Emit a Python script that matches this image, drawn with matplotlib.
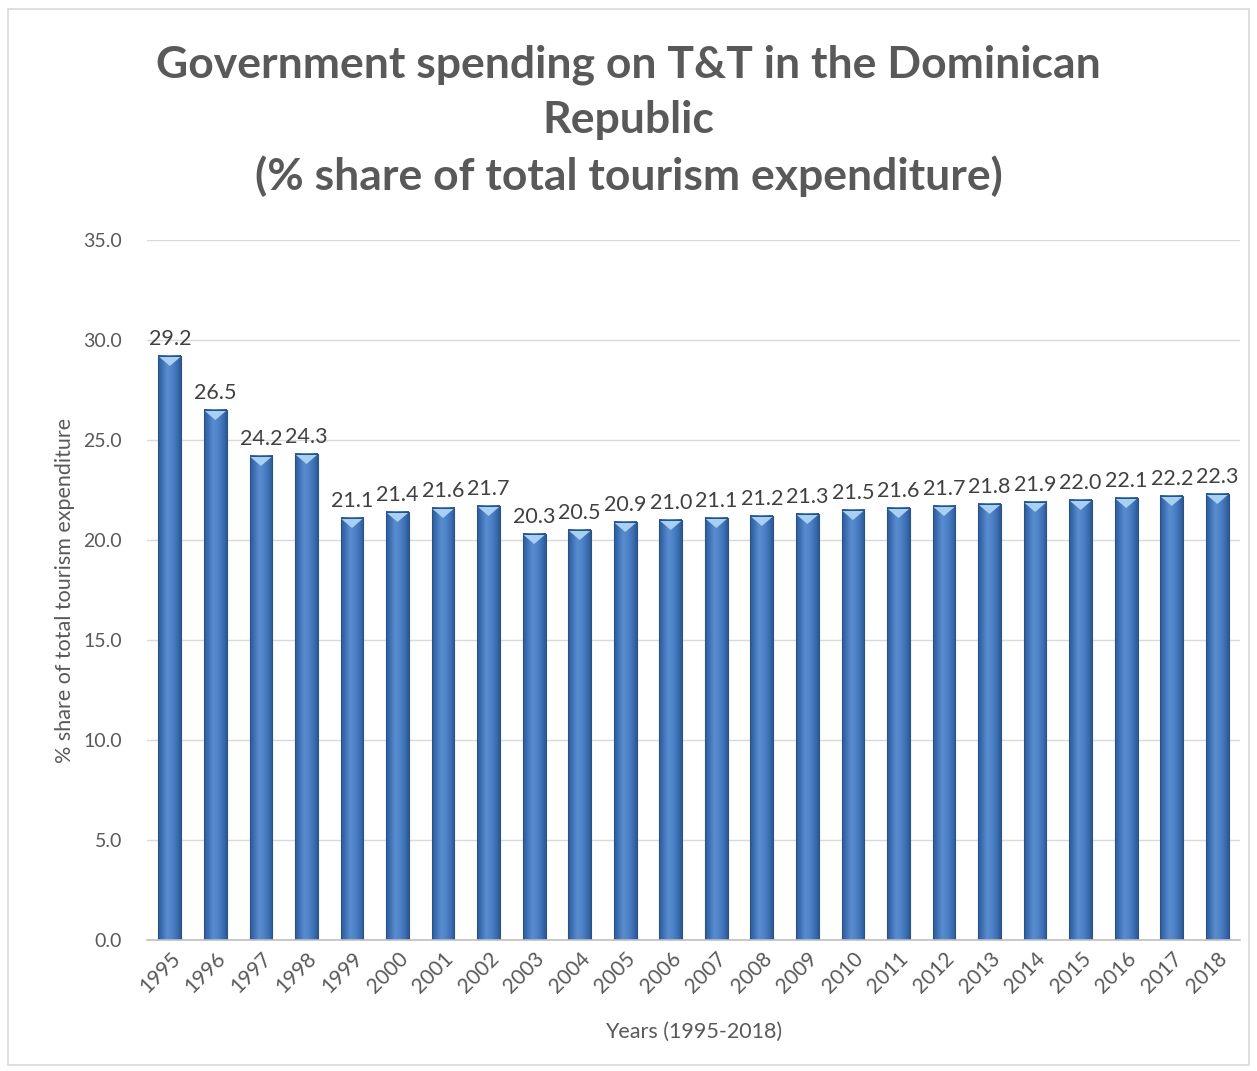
import numpy as np
import matplotlib.pyplot as plt
from matplotlib.patches import Polygon, Rectangle
from matplotlib.colors import LinearSegmentedColormap

years = [str(y) for y in range(1995, 2019)]
share = [29.2, 26.5, 24.2, 24.3, 21.1, 21.4, 21.6, 21.7, 20.3, 20.5, 20.9, 21.0,
         21.1, 21.2, 21.3, 21.5, 21.6, 21.7, 21.8, 21.9, 22.0, 22.1, 22.2, 22.3]
yticks = [0, 5, 10, 15, 20, 25, 30, 35]

plt.rcParams['font.family'] = ['Lato', 'DejaVu Sans']
text_gray = '#595959'

fig = plt.figure(figsize=(12.57, 10.71), dpi=100)
fig.patches.append(Rectangle((0.006, 0.006), 0.988, 0.986, transform=fig.transFigure,
                             fill=False, edgecolor='#d9d9d9', lw=1.2))
ax = fig.add_axes([0.117, 0.1223, 0.8695, 0.6536])

# horizontal shading across each bar: darker edges, lighter middle
bar_cmap = LinearSegmentedColormap.from_list(
    'bevel', ['#2c5a94', '#3f72b8', '#5a8dd0', '#4f84c8', '#3f72b8', '#2c5a94'])
grad = np.linspace(0, 1, 64).reshape(1, -1)
w = 0.5
for i, v in enumerate(share):
    x0, x1 = i - w / 2, i + w / 2
    ax.imshow(grad, extent=[x0, x1, 0, v], aspect='auto', cmap=bar_cmap,
              interpolation='bicubic', zorder=2)
    ax.add_patch(Rectangle((x0, 0), w, v, fill=False, edgecolor='#2a5286', lw=0.8, zorder=3))
    ax.add_patch(Polygon([(x0 + 0.02, v - 0.05), (x1 - 0.02, v - 0.05), (i, v - 0.5)],
                         closed=True, facecolor='#a8d0f2', edgecolor='none', zorder=3))
    ax.text(i, v + 0.35, f'{v:.1f}', ha='center', va='bottom', fontsize=15.5,
            color='#404040', zorder=4)

ax.set_xlim(-0.5, len(share) - 0.5)
ax.set_ylim(0, 35)
ax.set_yticks(yticks)
ax.set_yticklabels([f'{t:.1f}' for t in yticks], fontsize=14, color=text_gray)
ax.set_xticks(range(len(years)))
ax.set_xticklabels(years, rotation=45, ha='right', rotation_mode='anchor',
                   fontsize=15, color=text_gray)
ax.tick_params(axis='y', length=0, pad=18)
ax.tick_params(axis='x', length=0, pad=6)
ax.yaxis.grid(True, color='#d9d9d9', lw=1)
ax.set_axisbelow(True)
for s in ['top', 'right', 'left']:
    ax.spines[s].set_visible(False)
ax.spines['bottom'].set_color('#bfbfbf')
ax.spines['bottom'].set_linewidth(1.2)
ax.spines['bottom'].set_zorder(5)

ax.set_ylabel('% share of total tourism expenditure', fontsize=15.5, color=text_gray, labelpad=6)
ax.set_xlabel('Years (1995-2018)', fontsize=15.5, color=text_gray, labelpad=18)

fig.text(0.5, 0.887, 'Government spending on T&T in the Dominican\nRepublic\n'
         '(% share of total tourism expenditure)',
         ha='center', va='center', fontsize=32, fontweight='bold', color=text_gray,
         linespacing=1.45)

fig.savefig('out.png', dpi=100)
